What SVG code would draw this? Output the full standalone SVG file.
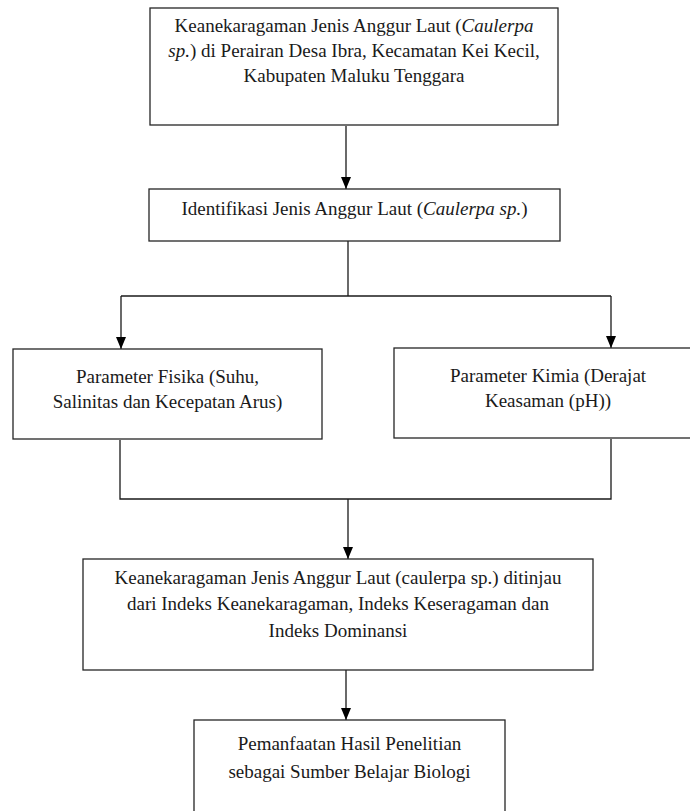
<svg xmlns="http://www.w3.org/2000/svg" width="690" height="811" viewBox="0 0 690 811">
<style>
.box{fill:#fff;stroke:#262626;stroke-width:1.3}
.t{font-family:'Liberation Serif','DejaVu Serif',serif;font-size:19px;fill:#1a1a1a;text-anchor:middle}
.conn path{fill:none;stroke:#1a1a1a;stroke-width:1.3}
</style>
<defs>
<marker id="ah" markerUnits="userSpaceOnUse" markerWidth="12" markerHeight="10" refX="12" refY="5" orient="auto">
<path d="M0,0 L12,5 L0,10 z" fill="#000"/>
</marker>
</defs>
<rect width="690" height="811" fill="#fff"/>
<g class="conn">
<path d="M346,126 V189" marker-end="url(#ah)"/>
<path d="M348,241 V296"/>
<path d="M121,296 H611"/>
<path d="M121,296 V349" marker-end="url(#ah)"/>
<path d="M611,296 V348" marker-end="url(#ah)"/>
<path d="M120,440 V499 H611 V439"/>
<path d="M348,499 V559" marker-end="url(#ah)"/>
<path d="M346,670 V720" marker-end="url(#ah)"/>
</g>
<g id="n1">
<rect class="box" x="150" y="8" width="408" height="117"/>
<text class="t" font-family="Liberation Serif, serif" x="354" y="32">Keanekaragaman Jenis Anggur Laut (<tspan font-style="italic">Caulerpa</tspan></text>
<text class="t" font-family="Liberation Serif, serif" x="354" y="57"><tspan font-style="italic">sp.</tspan>) di Perairan Desa Ibra, Kecamatan Kei Kecil,</text>
<text class="t" font-family="Liberation Serif, serif" x="354" y="82">Kabupaten Maluku Tenggara</text>
</g>
<g id="n2">
<rect class="box" x="149" y="189" width="411" height="52"/>
<text class="t" x="354.5" y="215">Identifikasi Jenis Anggur Laut (<tspan font-style="italic">Caulerpa sp.</tspan>)</text>
</g>
<g id="n3">
<rect class="box" x="13" y="349" width="309" height="90"/>
<text class="t" x="167.5" y="383">Parameter Fisika (Suhu,</text>
<text class="t" x="167.5" y="408">Salinitas dan Kecepatan Arus)</text>
</g>
<g id="n4">
<rect class="box" x="394" y="348" width="308" height="90"/>
<text class="t" x="548" y="382">Parameter Kimia (Derajat</text>
<text class="t" x="548" y="407">Keasaman (pH))</text>
</g>
<g id="n5">
<rect class="box" x="83" y="559" width="510" height="111"/>
<text class="t" x="338" y="584">Keanekaragaman Jenis Anggur Laut (caulerpa sp.) ditinjau</text>
<text class="t" x="338" y="610">dari Indeks Keanekaragaman, Indeks Keseragaman dan</text>
<text class="t" x="338" y="637">Indeks Dominansi</text>
</g>
<g id="n6">
<rect class="box" x="194" y="720" width="311" height="110"/>
<text class="t" x="349.5" y="750">Pemanfaatan Hasil Penelitian</text>
<text class="t" x="349.5" y="778">sebagai Sumber Belajar Biologi</text>
</g>
</svg>
